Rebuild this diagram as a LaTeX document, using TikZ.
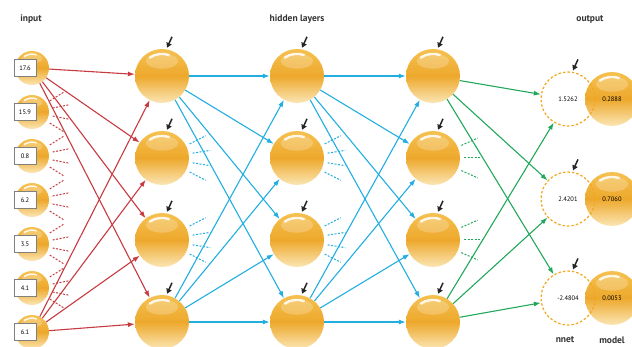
\documentclass[tikz,border=0pt]{standalone}
\usepackage{fontspec}
\setmainfont{PT Sans}
\usetikzlibrary{arrows.meta,calc}
\definecolor{netred}{HTML}{C73A40}
\definecolor{netblue}{HTML}{22AEE0}
\definecolor{netgreen}{HTML}{22A85C}
\definecolor{dashorange}{HTML}{F2A71E}
\definecolor{ballTop}{HTML}{F5C150}
\definecolor{ballMid}{HTML}{EDA82C}
\definecolor{ballBot}{HTML}{FBE6B4}
\definecolor{headgray}{HTML}{333333}
\begin{document}
\begin{tikzpicture}[x=1pt,y=-1pt,
  ball/.style={circle,inner sep=0pt,minimum size=#1,top color=ballTop,bottom color=ballBot,middle color=ballMid,
    path picture={
      \fill[white,opacity=.22] ($(path picture bounding box.center)!0.55!(path picture bounding box.north)$) ellipse [x radius=0.3*#1, y radius=0.14*#1];
      \draw[white,opacity=.85,line width=0.045*#1] ($(path picture bounding box.center)+(125:0.41*#1)$) arc[start angle=125,end angle=70,radius=0.41*#1];}},
  inbox/.style={draw=black!50,fill=white,inner sep=0pt,minimum width=22pt,minimum height=17pt,font=\fontsize{6.5}{7}\selectfont},
  outcirc/.style={circle,draw=dashorange,dash pattern=on 2.5pt off 2pt,line width=1.2pt,inner sep=0pt,minimum size=54pt,font=\fontsize{6.5}{7}\selectfont},
  modeltext/.style={font=\fontsize{6.5}{7}\selectfont},
  head/.style={font=\fontsize{9.5}{11}\selectfont\bfseries,text=headgray},
  conn/.style={line width=1.1pt,-{Latex[length=7pt,width=5pt]}},
  redarr/.style={conn,draw=netred},
  bluearr/.style={conn,draw=netblue},
  greenarr/.style={conn,draw=netgreen},
  stub/.style={line width=1pt,dash pattern=on 2pt off 1.5pt},
  pointer/.style={line width=1.5pt,draw=black!85,-{Triangle[length=5pt,width=5.5pt]}}
]
\useasboundingbox (0,0) rectangle (632,347);
\clip (0,0) rectangle (632,347);

% headings
\node[head] (tin) at (31,19) {input};
\node[head] (thid) at (297,19) {hidden layers};
\node[head] (tout) at (590,19) {output};
\node[head] (tnnet) at (565,340) {nnet};
\node[head] (tmodel) at (612,340) {model};

% input layer
\foreach \k/\v in {1/17.6,2/15.9,3/0.8,4/6.2,5/3.5,6/4.1,7/6.1}{
  \node[ball=34pt] (i\k) at (32,{68+44*(\k-1)}) {};
  \node[inbox] (b\k) at (25,{68+44*(\k-1)}) {\v};
}

% hidden layers
\foreach \r/\y in {1/76,2/158,3/240,4/322}{
  \node[ball=54pt] (ha\r) at (162,\y) {};
  \node[ball=54pt] (hb\r) at (297,\y) {};
  \node[ball=54pt] (hc\r) at (433,\y) {};
}

% output
\foreach \r/\y/\n/\m in {1/99/1.5262/0.2888,2/199/2.4201/0.7060,3/298/-2.4804/0.0053}{
  \node[ball=54pt] (m\r) at (612,\y) {};
  \node[modeltext] (mt\r) at (612,\y) {\m};
  \node[outcirc] (o\r) at (568,\y) {\n};
}

% red connectors
\foreach \t in {1,...,4}{
  \draw[redarr] (i1) -- (ha\t);
  \draw[redarr] (i7) -- (ha\t);
}
\foreach \k in {2,...,6}{
  \foreach \a in {32,11,-11,-32}{
    \draw[stub,netred] ($(i\k.center)+(\a:21)$) -- ($(i\k.center)+(\a:37)$);
  }
}

% blue connectors
\foreach \s in {1,4}{
  \foreach \t in {1,...,4}{
    \draw[bluearr] (ha\s) -- (hb\t);
    \draw[bluearr] (hb\s) -- (hc\t);
  }
}
\foreach \k in {2,3}{
  \foreach \a in {27,9,-9,-27}{
    \draw[stub,netblue] ($(ha\k.center)+(\a:31)$) -- ($(ha\k.center)+(\a:49)$);
    \draw[stub,netblue] ($(hb\k.center)+(\a:31)$) -- ($(hb\k.center)+(\a:49)$);
  }
}

% green connectors
\foreach \s in {1,4}{
  \foreach \t in {1,2,3}{
    \draw[greenarr] (hc\s) -- (o\t);
  }
}
\foreach \k in {2,3}{
  \foreach \a in {24,0,-24}{
    \draw[stub,netgreen] ($(hc\k.center)+(\a:31)$) -- ($(hc\k.center)+(\a:49)$);
  }
}

% pointers
\foreach \n in {ha1,ha2,ha3,ha4,hb1,hb2,hb3,hb4,hc1,hc2,hc3,hc4,o1,o2,o3}{
  \coordinate (p\n) at ([shift={(10,-12)}]\n.north);
  \draw[pointer] (p\n) -- ([shift={(5,-1)}]\n.north);
}
\end{tikzpicture}
\end{document}
